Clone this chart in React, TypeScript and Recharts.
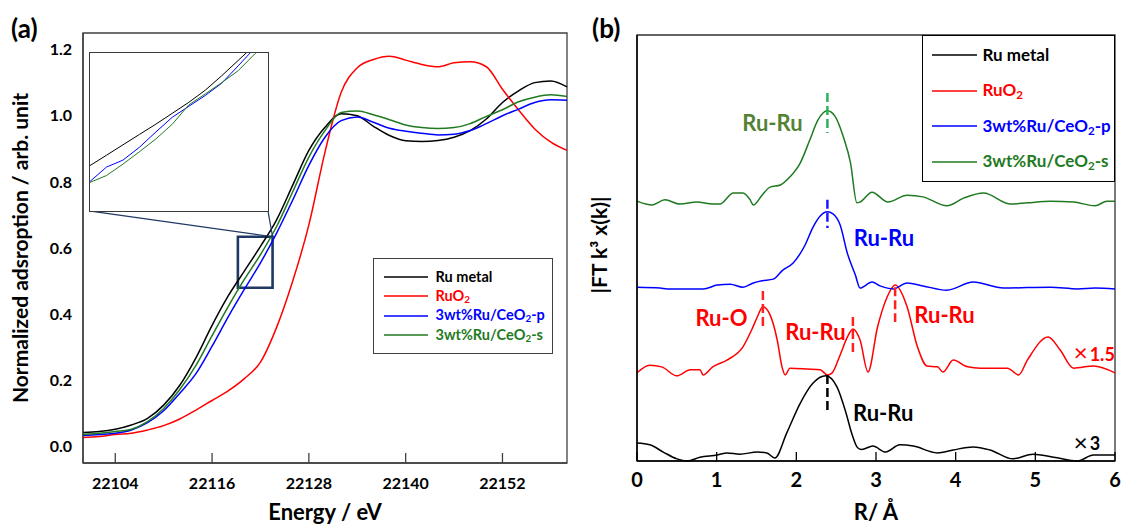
import React from 'react';
import { LineChart, Line, XAxis, YAxis, ReferenceArea, ReferenceLine, ReferenceDot, Legend } from 'recharts';

const FONT = "Lato, 'Open Sans', 'DejaVu Sans', sans-serif";

// ---------- Panel (a): XANES ----------
const ENERGY = [22100, 22102, 22104, 22106, 22108, 22110, 22112, 22114, 22116, 22118, 22120, 22122, 22124, 22126, 22128, 22130, 22132, 22134, 22136, 22138, 22140, 22142, 22144, 22146, 22148, 22150, 22152, 22154, 22156, 22158, 22160];
const A_RU_METAL = [0.042, 0.045, 0.052, 0.065, 0.085, 0.125, 0.185, 0.268, 0.366, 0.455, 0.53, 0.605, 0.685, 0.79, 0.895, 0.965, 1.006, 1.0, 0.968, 0.94, 0.924, 0.922, 0.925, 0.935, 0.955, 0.99, 1.04, 1.075, 1.1, 1.105, 1.087];
const A_RUO2 = [0.027, 0.03, 0.036, 0.04, 0.05, 0.063, 0.083, 0.11, 0.139, 0.168, 0.205, 0.255, 0.36, 0.5, 0.67, 0.89, 1.07, 1.145, 1.17, 1.18, 1.168, 1.155, 1.148, 1.16, 1.163, 1.148, 1.08, 1.017, 0.96, 0.92, 0.895];
const A_P = [0.033, 0.036, 0.04, 0.05, 0.072, 0.108, 0.161, 0.22, 0.303, 0.392, 0.475, 0.555, 0.645, 0.745, 0.85, 0.935, 0.985, 0.996, 0.98, 0.962, 0.953, 0.947, 0.942, 0.944, 0.955, 0.976, 1.0, 1.02, 1.04, 1.048, 1.047];
const A_S = [0.037, 0.04, 0.045, 0.052, 0.075, 0.115, 0.172, 0.245, 0.335, 0.423, 0.505, 0.58, 0.665, 0.77, 0.875, 0.955, 1.01, 1.014, 1.003, 0.988, 0.972, 0.964, 0.961, 0.964, 0.976, 0.998, 1.018, 1.042, 1.056, 1.063, 1.058];
const A_X_TICKS = [22104, 22116, 22128, 22140, 22152];
const A_Y_TICKS = [0, 0.2, 0.4, 0.6, 0.8, 1.0, 1.2];

// inset (zoom of the boxed region)
const INSET_E = [22119.2, 22119.6, 22120.0, 22120.4, 22120.8, 22121.2, 22121.6, 22122.0, 22122.4, 22122.8, 22123.2, 22123.6];
const INSET_RU = [0.5236, 0.5337, 0.5439, 0.5541, 0.5642, 0.5749, 0.5856, 0.5975, 0.6117, 0.6267, 0.6418, 0.6563];
const INSET_P = [0.508, 0.5221, 0.5289, 0.5415, 0.5565, 0.571, 0.5817, 0.5923, 0.6044, 0.6214, 0.6388, 0.6553];
const INSET_S = [0.5071, 0.5138, 0.525, 0.5371, 0.5497, 0.5642, 0.5831, 0.5938, 0.6049, 0.6166, 0.633, 0.6476];
const BOX = { e1: 22119.2, e2: 22123.5, v1: 0.48, v2: 0.634 };

const SERIES_NAMES = ['Ru metal', 'RuO2', '3wt%Ru/CeO2-p', '3wt%Ru/CeO2-s'];
const SERIES_COLORS = ['#000000', '#ff0000', '#0000ff', '#1f7a22'];

// ---------- Panel (b): FT-EXAFS ----------
const B_BLACK_R = [0, 0.16, 0.33, 0.5, 0.63, 0.79, 1.01, 1.13, 1.29, 1.51, 1.63, 1.73, 1.88, 2.05, 2.21, 2.37, 2.51, 2.62, 2.7, 2.77, 2.82, 2.96, 3.12, 3.3, 3.47, 3.77, 3.97, 4.22, 4.43, 4.72, 4.97, 5.23, 5.53, 5.73, 6.0];
const B_BLACK_Y = [0.42, 0.38, 0.21, 0.05, 0.0, 0.09, 0.14, 0.19, 0.16, 0.21, 0.19, 0.07, 0.66, 1.36, 1.83, 2.0, 1.74, 1.15, 0.62, 0.31, 0.27, 0.35, 0.21, 0.38, 0.35, 0.19, 0.26, 0.33, 0.26, 0.05, 0.16, 0.09, 0.0, 0.14, 0.14];
const B_RED_R = [0, 0.16, 0.31, 0.5, 0.67, 0.79, 0.83, 0.95, 1.13, 1.33, 1.44, 1.51, 1.58, 1.67, 1.76, 1.82, 1.86, 1.92, 2.14, 2.3, 2.39, 2.45, 2.55, 2.64, 2.71, 2.8, 2.9, 3.02, 3.14, 3.24, 3.39, 3.52, 3.64, 3.77, 3.84, 3.97, 4.15, 4.31, 4.65, 4.79, 4.9, 5.16, 5.31, 5.48, 5.73, 6.0];
const B_RED_Y = [2.07, 2.25, 2.21, 2.0, 2.14, 2.14, 2.02, 2.21, 2.37, 2.68, 3.08, 3.38, 3.62, 3.43, 2.84, 2.21, 2.02, 2.18, 2.16, 2.14, 2.02, 2.07, 2.49, 2.91, 3.1, 2.84, 2.09, 3.15, 3.85, 4.13, 3.62, 2.68, 2.23, 2.21, 2.09, 2.37, 2.21, 2.18, 2.18, 2.02, 2.37, 2.91, 2.61, 2.18, 2.23, 2.07];
const B_BLUE_R = [0, 0.29, 0.38, 0.83, 1.01, 1.17, 1.33, 1.46, 1.57, 1.71, 1.83, 1.96, 2.11, 2.21, 2.3, 2.39, 2.46, 2.55, 2.64, 2.74, 2.8, 2.95, 3.05, 3.22, 3.39, 3.59, 3.89, 4.22, 4.6, 5.19, 5.53, 5.75, 6.0];
const B_BLUE_Y = [4.08, 4.06, 4.04, 4.04, 4.13, 4.15, 4.08, 4.18, 4.23, 4.27, 4.48, 4.65, 5.07, 5.49, 5.75, 5.85, 5.8, 5.54, 4.88, 4.37, 4.06, 4.2, 4.11, 4.04, 4.18, 4.11, 4.01, 4.2, 4.06, 4.08, 4.04, 4.06, 4.04];
const B_GREEN_R = [0, 0.19, 0.35, 0.54, 0.75, 0.95, 1.04, 1.21, 1.33, 1.42, 1.46, 1.57, 1.67, 1.8, 1.92, 2.05, 2.17, 2.27, 2.39, 2.49, 2.59, 2.68, 2.76, 2.8, 2.95, 3.15, 3.39, 3.59, 3.89, 4.1, 4.35, 4.69, 4.9, 5.19, 5.48, 5.75, 5.9, 6.0];
const B_GREEN_Y = [6.1, 6.01, 6.13, 6.03, 6.08, 6.03, 6.03, 6.29, 6.29, 6.13, 6.01, 6.24, 6.43, 6.48, 6.67, 7.0, 7.54, 8.0, 8.22, 8.08, 7.61, 7.0, 6.06, 6.08, 6.31, 6.08, 6.24, 6.2, 5.99, 6.17, 6.29, 6.03, 6.06, 6.1, 6.08, 5.99, 6.1, 6.1];
const B_X_TICKS = [0, 1, 2, 3, 4, 5, 6];

// peak markers: [R, yTop, yBottom, color]
const B_MARKERS: [number, number, number, string][] = [
  [2.39, 8.64, 7.7, '#2bb35a'],
  [2.39, 6.13, 5.47, '#1a1aff'],
  [2.39, 2.02, 1.15, '#000000'],
  [1.58, 3.99, 3.08, '#ff2020'],
  [2.71, 3.38, 2.49, '#ff2020'],
  [3.24, 4.08, 3.26, '#ff2020'],
];
// peak labels: [text, R, y, color, size, weight]
const B_LABELS: [string, number, number, string, number, number][] = [
  ['Ru-Ru', 1.7, 7.93, '#548235', 22, 700],
  ['Ru-Ru', 3.1, 5.23, '#0000ff', 22, 700],
  ['Ru-O', 1.06, 3.36, '#ff0000', 22, 700],
  ['Ru-Ru', 2.24, 3.03, '#ff0000', 22, 700],
  ['Ru-Ru', 3.86, 3.43, '#ff0000', 22, 700],
  ['Ru-Ru', 3.09, 1.13, '#000000', 22, 700],
  ['×', 5.57, 2.54, '#ff0000', 24, 400],
  ['1.5', 5.84, 2.5, '#ff0000', 18, 700],
  ['×', 5.57, 0.44, '#000000', 24, 400],
  ['3', 5.75, 0.4, '#000000', 18, 700],
];

const dataA = ENERGY.map((e, i) => ({ e, ru: A_RU_METAL[i], ruo2: A_RUO2[i], p: A_P[i], s: A_S[i] }));
const dataInset = INSET_E.map((e, i) => ({ e, ru: INSET_RU[i], p: INSET_P[i], s: INSET_S[i] }));
const zip = (rs: number[], ys: number[]) => rs.map((r, i) => ({ r, y: ys[i] }));
const bBlack = zip(B_BLACK_R, B_BLACK_Y);
const bRed = zip(B_RED_R, B_RED_Y);
const bBlue = zip(B_BLUE_R, B_BLUE_Y);
const bGreen = zip(B_GREEN_R, B_GREEN_Y);

function fmtName(name: string) {
  const i = name.indexOf('O2');
  if (i < 0) return name;
  return (
    <>
      {name.slice(0, i + 1)}
      <span style={{ fontSize: '0.68em', position: 'relative', top: '0.25em' }}>2</span>
      {name.slice(i + 2)}
    </>
  );
}

const makeTick = (fontSize: number, dyText: number, len: number, stroke: string, fmt?: (v: number) => string) => (props: any) => {
  const { x, y, payload } = props;
  return (
    <g>
      <line x1={x} x2={x} y1={y} y2={y - len} stroke={stroke} strokeWidth={1.3} />
      <text x={x} y={y + dyText} textAnchor="middle" fontSize={fontSize} fontWeight={700} fontFamily={FONT} fill="#000">
        {fmt ? fmt(payload.value) : String(payload.value)}
      </text>
    </g>
  );
};

const LegendA = () => (
  <div style={{ width: 180, height: 96, boxSizing: 'border-box', border: '1.5px solid #404040', background: '#fff', paddingTop: 8, fontFamily: FONT, fontWeight: 700, fontSize: 14.5 }}>
    {SERIES_NAMES.map((n, i) => (
      <div key={n} style={{ display: 'flex', alignItems: 'center', height: 19.5 }}>
        <svg width={44} height={4} style={{ marginLeft: 9.5, marginRight: 8, display: 'block', flex: 'none' }}>
          <line x1={0} y1={2} x2={44} y2={2} stroke={SERIES_COLORS[i]} strokeWidth={1.3} />
        </svg>
        <span style={{ color: SERIES_COLORS[i], lineHeight: '19.5px', whiteSpace: 'nowrap' }}>{fmtName(n)}</span>
      </div>
    ))}
  </div>
);

const LegendB = () => (
  <div style={{ width: 193, height: 147, boxSizing: 'border-box', border: '1.5px solid #000', background: '#fff', paddingTop: 1, fontFamily: FONT, fontWeight: 700, fontSize: 17 }}>
    {SERIES_NAMES.map((n, i) => (
      <div key={n} style={{ display: 'flex', alignItems: 'center', height: 35.7 }}>
        <svg width={45} height={4} style={{ marginLeft: 8.5, marginRight: 6, display: 'block', flex: 'none' }}>
          <line x1={0} y1={2} x2={45} y2={2} stroke={SERIES_COLORS[i]} strokeWidth={1.3} />
        </svg>
        <span style={{ color: SERIES_COLORS[i], lineHeight: '35px', whiteSpace: 'nowrap' }}>{fmtName(n)}</span>
      </div>
    ))}
  </div>
);

export default function App() {
  const axA = '#404040';
  return (
    <div style={{ position: 'absolute', left: 0, top: 0, width: 1122, height: 526, background: '#fff', overflow: 'hidden' }}>
      {/* Panel (a) */}
      <div style={{ position: 'absolute', left: 0, top: 0 }}>
        <LineChart width={580} height={526} data={dataA} margin={{ top: 33, right: 13, bottom: 0, left: 0 }}>
          <XAxis
            dataKey="e"
            type="number"
            domain={[22100, 22160]}
            ticks={A_X_TICKS}
            interval={0}
            height={63}
            tickLine={false}
            tickSize={0}
            tickMargin={0}
            axisLine={{ stroke: axA, strokeWidth: 1.5 }}
            tick={makeTick(16, 26, 10, axA)}
            label={{ value: 'Energy / eV', position: 'insideBottom', offset: 6, fontSize: 22, fontWeight: 700, fontFamily: FONT, fill: '#000' }}
          />
          <YAxis
            type="number"
            domain={[-0.05, 1.25]}
            ticks={A_Y_TICKS}
            interval={0}
            width={83}
            tickLine={false}
            tickSize={0}
            tickMargin={11}
            axisLine={{ stroke: axA, strokeWidth: 1.5 }}
            tickFormatter={(v: number) => v.toFixed(1)}
            tick={{ fontSize: 16, fontWeight: 700, fontFamily: FONT, fill: '#000' }}
            label={{ value: 'Normalized adsroption / arb. unit', angle: -90, position: 'insideLeft', offset: 21, style: { textAnchor: 'middle' }, fontSize: 21, fontWeight: 700, fontFamily: FONT, fill: '#000' }}
          />
          <ReferenceArea x1={22100} x2={22160} y1={-0.05} y2={1.25} fill="none" fillOpacity={0} stroke={axA} strokeWidth={1.3} />
          <Line dataKey="ru" name={SERIES_NAMES[0]} stroke={SERIES_COLORS[0]} strokeWidth={1.5} dot={false} type="monotone" isAnimationActive={false} />
          <Line dataKey="ruo2" name={SERIES_NAMES[1]} stroke={SERIES_COLORS[1]} strokeWidth={1.5} dot={false} type="monotone" isAnimationActive={false} />
          <Line dataKey="p" name={SERIES_NAMES[2]} stroke={SERIES_COLORS[2]} strokeWidth={1.5} dot={false} type="monotone" isAnimationActive={false} />
          <Line dataKey="s" name={SERIES_NAMES[3]} stroke={SERIES_COLORS[3]} strokeWidth={1.5} dot={false} type="monotone" isAnimationActive={false} />
          <ReferenceArea x1={BOX.e1} x2={BOX.e2} y1={BOX.v1} y2={BOX.v2} fill="none" fillOpacity={0} stroke="#1f3864" strokeWidth={2.6} />
          <ReferenceLine segment={[{ x: 22100.74, y: 0.712 }, { x: BOX.e2, y: BOX.v2 }]} stroke="#1f3864" strokeWidth={1.2} />
          <ReferenceLine segment={[{ x: 22122.93, y: 0.712 }, { x: BOX.e2, y: BOX.v2 }]} stroke="#1f3864" strokeWidth={1.2} />
          <Legend layout="vertical" align="center" verticalAlign="middle" wrapperStyle={{ left: 373, top: 258, width: 180, height: 96 }} content={() => <LegendA />} />
        </LineChart>
      </div>

      {/* Inset of panel (a) */}
      <div style={{ position: 'absolute', left: 89, top: 52, width: 180, height: 160, boxSizing: 'border-box', border: '1.2px solid #3a3a3a', background: '#fff' }}>
        <LineChart width={177} height={157} data={dataInset} margin={{ top: 0, right: 0, bottom: 0, left: 0 }}>
          <XAxis dataKey="e" type="number" domain={[BOX.e1, BOX.e2]} allowDataOverflow hide />
          <YAxis type="number" domain={[BOX.v1, BOX.v2]} allowDataOverflow hide />
          <Line dataKey="ru" stroke={SERIES_COLORS[0]} strokeWidth={1} dot={false} type="linear" isAnimationActive={false} />
          <Line dataKey="p" stroke={SERIES_COLORS[2]} strokeWidth={1} dot={false} type="linear" isAnimationActive={false} />
          <Line dataKey="s" stroke={SERIES_COLORS[3]} strokeWidth={1} dot={false} type="linear" isAnimationActive={false} />
        </LineChart>
      </div>

      {/* Panel (b) */}
      <div style={{ position: 'absolute', left: 580, top: 0 }}>
        <LineChart width={542} height={526} margin={{ top: 35, right: 7, bottom: 0, left: 0 }}>
          <XAxis
            dataKey="r"
            type="number"
            domain={[0, 6]}
            ticks={B_X_TICKS}
            interval={0}
            height={65}
            tickLine={false}
            tickSize={0}
            tickMargin={0}
            axisLine={{ stroke: '#000', strokeWidth: 1.5 }}
            tick={makeTick(20, 26, 9, '#000')}
            allowDuplicatedCategory={false}
            label={{ value: 'R/ Å', position: 'insideBottom', offset: 6, fontSize: 22, fontWeight: 700, fontFamily: FONT, fill: '#000' }}
          />
          <YAxis
            type="number"
            domain={[0, 10]}
            width={57}
            tick={false}
            tickLine={false}
            axisLine={{ stroke: '#000', strokeWidth: 1.5 }}
            label={{ value: '|FT k³ x(k)|', angle: -90, position: 'insideLeft', offset: 20, dy: -3, style: { textAnchor: 'middle' }, fontSize: 21, fontWeight: 700, fontFamily: FONT, fill: '#000' }}
          />
          <ReferenceArea x1={0} x2={6} y1={0} y2={10} fill="none" fillOpacity={0} stroke="#333" strokeWidth={1.3} />
          <Line data={bBlack} dataKey="y" name={SERIES_NAMES[0]} stroke={SERIES_COLORS[0]} strokeWidth={1.5} dot={false} type="monotone" isAnimationActive={false} />
          <Line data={bRed} dataKey="y" name={SERIES_NAMES[1]} stroke={SERIES_COLORS[1]} strokeWidth={1.5} dot={false} type="monotone" isAnimationActive={false} />
          <Line data={bBlue} dataKey="y" name={SERIES_NAMES[2]} stroke={SERIES_COLORS[2]} strokeWidth={1.5} dot={false} type="monotone" isAnimationActive={false} />
          <Line data={bGreen} dataKey="y" name={SERIES_NAMES[3]} stroke={SERIES_COLORS[3]} strokeWidth={1.5} dot={false} type="monotone" isAnimationActive={false} />
          {B_MARKERS.map(([r, y1, y2, c], i) => (
            <ReferenceLine key={'m' + i} segment={[{ x: r, y: y1 }, { x: r, y: y2 }]} stroke={c} strokeWidth={2.5} strokeDasharray="9 4" />
          ))}
          {B_LABELS.map(([t, r, y, c, fs, fw], i) => (
            <ReferenceDot key={'l' + i} x={r} y={y} r={0} fill="none" stroke="none"
              label={{ value: t, position: 'center', fill: c, fontSize: fs, fontWeight: fw, fontFamily: FONT }} />
          ))}
          <Legend layout="vertical" align="center" verticalAlign="middle" wrapperStyle={{ left: 342, top: 35, width: 193, height: 147 }} content={() => <LegendB />} />
        </LineChart>
      </div>

      {/* Panel letters */}
      <svg width={1122} height={60} style={{ position: 'absolute', left: 0, top: 0, pointerEvents: 'none' }}>
        <text x={11} y={38} fontSize={26} fontWeight={700} fontFamily={FONT} fill="#000">(a)</text>
        <text x={592} y={38} fontSize={26} fontWeight={700} fontFamily={FONT} fill="#000">(b)</text>
      </svg>
    </div>
  );
}
